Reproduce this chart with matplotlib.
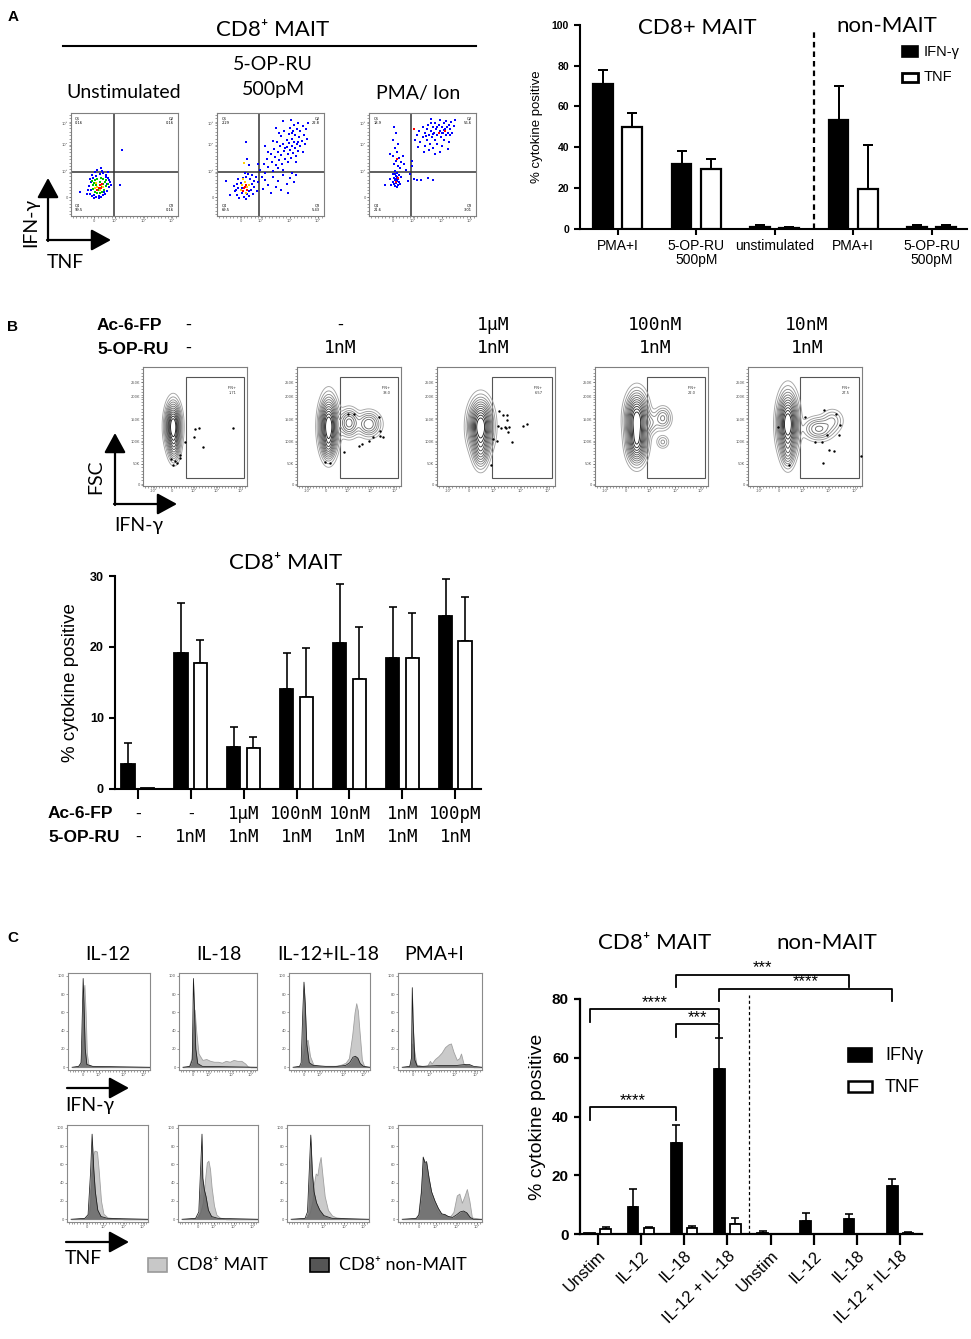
import numpy as np
import matplotlib
matplotlib.use("Agg")
import matplotlib.pyplot as plt
import matplotlib.transforms as mtransforms
from matplotlib.patches import Rectangle

# ====================== DATA ======================
# ---- Panel A : bar chart ----
A_categories = ["PMA+I", "5-OP-RU\n500pM", "unstimulated", "PMA+I", "5-OP-RU\n500pM"]
A_ifng = [71.0, 31.9, 1.0, 53.4, 1.0]
A_ifng_err = [6.9, 6.4, 1.0, 16.6, 1.0]
A_tnf = [49.9, 29.3, 0.5, 19.6, 0.8]
A_tnf_err = [6.9, 4.9, 0.5, 21.3, 1.0]
A_yticks = [0, 20, 40, 60, 80, 100]

# ---- Panel A : flow dot plots (fraction of plot box) ----
A_flow_titles = ["Unstimulated", "5-OP-RU", "500pM", "PMA/ Ion"]
A_flow_quadrants = [["0.16", "0.16", "99.5", "0.16"],
                    ["2.29", "22.8", "69.5", "5.43"],
                    ["18.9", "56.6", "21.6", "3.01"]]
A1_blue_x = [0.16, 0.18, 0.2, 0.22, 0.24, 0.26, 0.28, 0.3, 0.32, 0.34, 0.36, 0.37, 0.35, 0.33, 0.3, 0.27, 0.24,
             0.21, 0.19, 0.17, 0.18, 0.2, 0.23, 0.29, 0.33, 0.36, 0.31, 0.25, 0.22, 0.38, 0.09, 0.46, 0.48, 0.26, 0.34,
             0.15, 0.19, 0.35, 0.28]
A1_blue_y = [0.25, 0.21, 0.19, 0.2, 0.18, 0.19, 0.18, 0.2, 0.21, 0.24, 0.28, 0.33, 0.37, 0.4, 0.42, 0.41, 0.39,
             0.37, 0.33, 0.29, 0.36, 0.4, 0.43, 0.44, 0.38, 0.35, 0.23, 0.45, 0.17, 0.3, 0.23, 0.3, 0.64, 0.17, 0.31,
             0.21, 0.25, 0.43, 0.46]
A1_green_x = [0.21, 0.23, 0.25, 0.27, 0.29, 0.31, 0.33, 0.32, 0.3, 0.28, 0.25, 0.22, 0.24, 0.27, 0.3, 0.23, 0.33,
              0.26, 0.29, 0.21, 0.35, 0.2]
A1_green_y = [0.26, 0.23, 0.22, 0.22, 0.23, 0.25, 0.29, 0.33, 0.36, 0.37, 0.36, 0.32, 0.3, 0.33, 0.31, 0.35, 0.35,
              0.25, 0.28, 0.3, 0.31, 0.34]
A1_yellow_x = [0.25, 0.28, 0.27, 0.3, 0.24, 0.23]
A1_yellow_y = [0.28, 0.3, 0.25, 0.28, 0.32, 0.27]
A1_red_x = [0.26, 0.28, 0.27, 0.29, 0.25]
A1_red_y = [0.27, 0.27, 0.3, 0.31, 0.25]

A2_blue_x = [0.17, 0.19, 0.2, 0.21, 0.22, 0.23, 0.24, 0.25, 0.27, 0.28, 0.3, 0.31, 0.32, 0.33, 0.34, 0.35, 0.36,
             0.37, 0.38, 0.29, 0.26, 0.19, 0.16, 0.23, 0.33, 0.08, 0.12, 0.2, 0.3, 0.35, 0.18, 0.27,
             0.4, 0.42, 0.44, 0.45, 0.47, 0.48, 0.5, 0.51, 0.52, 0.53, 0.54, 0.55, 0.56, 0.57, 0.58, 0.59, 0.6, 0.6,
             0.61, 0.62, 0.63, 0.63, 0.64, 0.65, 0.65, 0.66, 0.67, 0.67, 0.68, 0.68, 0.69, 0.7, 0.7, 0.71, 0.71,
             0.72, 0.72, 0.73, 0.73, 0.74, 0.75, 0.75, 0.76, 0.76, 0.77, 0.78, 0.78, 0.79, 0.8, 0.8, 0.81, 0.82,
             0.83, 0.84, 0.85, 0.62, 0.57, 0.66, 0.74, 0.48, 0.45, 0.52, 0.58, 0.55, 0.62, 0.69, 0.64, 0.7, 0.76,
             0.45, 0.48, 0.5, 0.52, 0.55, 0.57, 0.6, 0.62, 0.65, 0.68, 0.7, 0.72, 0.74, 0.43, 0.66,
             0.28, 0.3, 0.27, 0.38]
A2_blue_y = [0.24, 0.2, 0.27, 0.17, 0.32, 0.22, 0.37, 0.18, 0.16, 0.21, 0.19, 0.36, 0.25, 0.31, 0.21, 0.28, 0.38,
             0.24, 0.33, 0.41, 0.42, 0.31, 0.29, 0.27, 0.4, 0.34, 0.2, 0.36, 0.24, 0.34, 0.25, 0.38,
             0.45, 0.38, 0.5, 0.42, 0.55, 0.47, 0.6, 0.52, 0.44, 0.65, 0.57, 0.49, 0.72, 0.62, 0.54, 0.68, 0.77, 0.59,
             0.5, 0.7, 0.63, 0.82, 0.55, 0.74, 0.67, 0.6, 0.79, 0.71, 0.85, 0.64, 0.56, 0.75, 0.68, 0.82, 0.61,
             0.72, 0.88, 0.66, 0.78, 0.58, 0.84, 0.7, 0.63, 0.9, 0.76, 0.68, 0.82, 0.73, 0.87, 0.62, 0.78, 0.7,
             0.84, 0.75, 0.9, 0.45, 0.46, 0.52, 0.52, 0.62, 0.68, 0.73, 0.8, 0.85, 0.92, 0.93, 0.66, 0.8, 0.72,
             0.35, 0.3, 0.22, 0.38, 0.28, 0.34, 0.25, 0.4, 0.31, 0.37, 0.42, 0.33, 0.4, 0.26, 0.22,
             0.55, 0.49, 0.72, 0.5]
A2_yellow_x = [0.23, 0.26, 0.28, 0.22, 0.3, 0.27, 0.24, 0.25]
A2_yellow_y = [0.3, 0.33, 0.28, 0.25, 0.3, 0.22, 0.36, 0.51]
A2_red_x = [0.25, 0.27, 0.24, 0.28, 0.26]
A2_red_y = [0.27, 0.3, 0.24, 0.25, 0.28]

A3_blue_x = [0.45, 0.47, 0.48, 0.5, 0.5, 0.52, 0.52, 0.54, 0.54, 0.55, 0.56, 0.57, 0.58, 0.58, 0.59, 0.6, 0.6,
             0.61, 0.62, 0.62, 0.63, 0.64, 0.64, 0.65, 0.66, 0.66, 0.67, 0.68, 0.68, 0.69, 0.7, 0.7, 0.71, 0.72,
             0.72, 0.73, 0.74, 0.75, 0.75, 0.76, 0.77, 0.78, 0.79, 0.56, 0.62, 0.66, 0.51, 0.46, 0.43, 0.8, 0.74,
             0.58, 0.6, 0.68, 0.53, 0.7, 0.64, 0.76,
             0.23, 0.25, 0.22, 0.27, 0.24, 0.26, 0.22, 0.28, 0.25, 0.23, 0.27, 0.29, 0.24, 0.26, 0.22, 0.28, 0.25,
             0.23, 0.27, 0.24, 0.26, 0.22, 0.28, 0.25, 0.23, 0.27, 0.24, 0.26, 0.21, 0.29, 0.25, 0.2, 0.3, 0.26,
             0.24, 0.15, 0.2, 0.3, 0.32, 0.33,
             0.35, 0.38, 0.4, 0.42, 0.45, 0.49, 0.55, 0.6, 0.36, 0.4]
A3_blue_y = [0.78, 0.82, 0.72, 0.86, 0.76, 0.8, 0.68, 0.84, 0.74, 0.88, 0.78, 0.7, 0.82, 0.9, 0.76, 0.86, 0.66,
             0.8, 0.74, 0.9, 0.84, 0.78, 0.7, 0.88, 0.82, 0.93, 0.76, 0.86, 0.68, 0.8, 0.9, 0.74, 0.84, 0.78,
             0.92, 0.86, 0.8, 0.88, 0.72, 0.84, 0.91, 0.8, 0.87, 0.64, 0.6, 0.62, 0.62, 0.67, 0.74, 0.93, 0.65,
             0.94, 0.79, 0.8, 0.77, 0.83, 0.86, 0.78,
             0.86, 0.8, 0.74, 0.7, 0.66, 0.62, 0.58, 0.56, 0.53, 0.5, 0.48, 0.46, 0.44, 0.42, 0.41, 0.4, 0.39,
             0.37, 0.36, 0.35, 0.34, 0.33, 0.33, 0.32, 0.31, 0.3, 0.29, 0.28, 0.3, 0.31, 0.36, 0.36, 0.38, 0.38,
             0.41, 0.3, 0.6, 0.52, 0.58, 0.5,
             0.45, 0.41, 0.48, 0.36, 0.35, 0.35, 0.37, 0.35, 0.34, 0.53]
A3_red_x = [0.25, 0.27, 0.26, 0.65, 0.71, 0.42]
A3_red_y = [0.33, 0.37, 0.55, 0.8, 0.82, 0.84]

# ---- Panel B : contour plots ----
B_flow_ac6fp = ["-", "-", "1μM", "100nM", "10nM"]
B_flow_5opru = ["-", "1nM", "1nM", "1nM", "1nM"]
B_flow_ifn_pct = ["1.71", "38.0", "6.57", "22.0", "27.5"]
B_gate_left = [0.41, 0.41, 0.47, 0.456, 0.46]
# density peaks: (x, y, sx, sy, weight)
B_peaks = [
    [(0.29, 0.50, 0.038, 0.10, 1.0), (0.30, 0.33, 0.03, 0.07, 0.25)],
    [(0.305, 0.50, 0.045, 0.12, 1.0), (0.30, 0.33, 0.03, 0.06, 0.2), (0.50, 0.53, 0.05, 0.06, 0.35),
     (0.69, 0.52, 0.06, 0.055, 0.3)],
    [(0.37, 0.50, 0.05, 0.11, 1.0), (0.37, 0.30, 0.035, 0.08, 0.3)],
    [(0.37, 0.56, 0.05, 0.11, 1.0), (0.37, 0.36, 0.045, 0.09, 0.7), (0.60, 0.57, 0.04, 0.05, 0.2),
     (0.60, 0.37, 0.03, 0.03, 0.1), (0.49, 0.53, 0.04, 0.05, 0.12)],
    [(0.35, 0.52, 0.045, 0.13, 1.0), (0.35, 0.28, 0.03, 0.07, 0.2), (0.62, 0.48, 0.07, 0.05, 0.25),
     (0.74, 0.55, 0.05, 0.05, 0.12)],
]
B_dots_x = [
    [0.5, 0.542, 0.494, 0.574, 0.861, 0.403, 0.274, 0.306, 0.355, 0.284, 0.329, 0.355],
    [0.49, 0.548, 0.79, 0.797, 0.8, 0.735, 0.694, 0.629, 0.597, 0.823, 0.452, 0.274, 0.316],
    [0.528, 0.557, 0.591, 0.596, 0.52, 0.54, 0.576, 0.585, 0.613, 0.604, 0.633, 0.477, 0.511, 0.731, 0.765,
     0.458],
    [],
    [0.265, 0.5, 0.668, 0.771, 0.803, 0.794, 0.691, 0.588, 0.647, 0.712, 0.756, 0.662, 0.362, 0.994],
]
B_dots_y = [
    [0.479, 0.487, 0.414, 0.324, 0.485, 0.366, 0.231, 0.211, 0.239, 0.175, 0.192, 0.259],
    [0.606, 0.606, 0.577, 0.465, 0.423, 0.408, 0.38, 0.352, 0.338, 0.408, 0.282, 0.203, 0.197],
    [0.63, 0.597, 0.597, 0.555, 0.507, 0.49, 0.493, 0.485, 0.498, 0.456, 0.372, 0.392, 0.378, 0.504, 0.518,
     0.176],
    [],
    [0.493, 0.577, 0.639, 0.606, 0.515, 0.428, 0.428, 0.366, 0.366, 0.304, 0.29, 0.192, 0.175, 0.248],
]

# ---- Panel B : bar chart ----
B_ac6fp = ["-", "-", "1μM", "100nM", "10nM", "1nM", "100pM"]
B_5opru = ["-", "1nM", "1nM", "1nM", "1nM", "1nM", "1nM"]
B_ifng = [3.5, 19.1, 5.9, 14.0, 20.5, 18.4, 24.3]
B_ifng_err = [2.9, 7.1, 2.8, 5.1, 8.4, 7.2, 5.3]
B_tnf = [0.15, 17.7, 5.8, 12.9, 15.5, 18.4, 20.9]
B_tnf_err = [0.0, 3.3, 1.5, 7.0, 7.3, 6.4, 6.2]
B_yticks = [0, 10, 20, 30]

# ---- Panel C : histograms (x = fraction of axis, y = % of max) ----
C_hist_titles = ["IL-12", "IL-18", "IL-12+IL-18", "PMA+I"]
C_ifn_mait_x = [
    [0.05, 0.12, 0.15, 0.17, 0.185, 0.2, 0.215, 0.23, 0.25, 0.3, 0.5, 0.9, 1.0],
    [0.05, 0.1, 0.13, 0.16, 0.18, 0.2, 0.22, 0.25, 0.3, 0.35, 0.4, 0.45, 0.5, 0.55, 0.6, 0.65, 0.7, 0.75, 0.8,
     0.85, 0.88, 0.92, 1.0],
    [0.05, 0.12, 0.15, 0.18, 0.21, 0.23, 0.26, 0.3, 0.4, 0.55, 0.65, 0.7, 0.74, 0.78, 0.81, 0.83, 0.85, 0.87,
     0.9, 0.93, 1.0],
    [0.05, 0.13, 0.15, 0.17, 0.19, 0.22, 0.3, 0.35, 0.38, 0.4, 0.44, 0.48, 0.52, 0.56, 0.6, 0.63, 0.66, 0.7,
     0.73, 0.75, 0.78, 0.82, 0.86, 0.9, 1.0],
]
C_ifn_mait_y = [
    [0, 1, 4, 20, 80, 90, 60, 15, 3, 1, 0.5, 0, 0],
    [0, 0.5, 2, 10, 40, 63, 40, 15, 8, 9, 7, 6, 6, 5, 7, 6, 8, 7, 7, 4, 1, 0, 0],
    [0, 1, 3, 15, 28, 30, 12, 3, 1, 1, 3, 5, 10, 35, 60, 70, 62, 40, 8, 1, 0],
    [0, 1, 5, 26, 20, 3, 1, 2, 7, 4, 9, 12, 16, 22, 25, 26, 17, 8, 10, 15, 4, 2, 1, 0, 0],
]
C_ifn_non_x = [
    [0.05, 0.13, 0.16, 0.175, 0.185, 0.195, 0.21, 0.23, 0.3, 1.0],
    [0.05, 0.14, 0.17, 0.185, 0.2, 0.215, 0.24, 0.3, 1.0],
    [0.05, 0.13, 0.15, 0.17, 0.185, 0.2, 0.22, 0.25, 0.3, 0.45, 0.6, 0.7, 0.75, 0.79, 0.82, 0.85, 0.88, 0.92,
     1.0],
    [0.05, 0.14, 0.16, 0.17, 0.18, 0.2, 0.23, 0.3, 0.5, 0.7, 0.8, 0.85, 0.9, 1.0],
]
C_ifn_non_y = [
    [0, 1, 5, 60, 97, 70, 20, 3, 1, 0],
    [0, 1, 8, 97, 60, 20, 4, 1, 0],
    [0, 1, 5, 60, 93, 70, 25, 5, 2, 1, 1, 2, 5, 11, 12, 10, 4, 1, 0],
    [0, 1, 10, 87, 50, 8, 1, 1, 2, 2, 3, 3, 1, 0],
]
C_tnf_mait_x = [
    [0.05, 0.2, 0.25, 0.28, 0.3, 0.32, 0.34, 0.37, 0.39, 0.42, 0.45, 0.5, 0.6, 0.7, 1.0],
    [0.05, 0.2, 0.25, 0.28, 0.31, 0.34, 0.36, 0.38, 0.4, 0.42, 0.45, 0.48, 0.52, 0.6, 1.0],
    [0.05, 0.2, 0.25, 0.28, 0.31, 0.33, 0.35, 0.37, 0.39, 0.41, 0.43, 0.46, 0.5, 0.55, 0.6, 0.7, 1.0],
    [0.05, 0.2, 0.24, 0.27, 0.3, 0.32, 0.35, 0.38, 0.42, 0.46, 0.5, 0.55, 0.58, 0.62, 0.66, 0.7, 0.73, 0.76,
     0.79, 0.82, 0.85, 0.88, 1.0],
]
C_tnf_mait_y = [
    [0, 1, 3, 10, 40, 70, 75, 74, 55, 20, 6, 2, 1, 0, 0],
    [0, 1, 3, 8, 18, 45, 62, 64, 55, 35, 15, 5, 2, 0, 0],
    [0, 1, 3, 8, 20, 40, 50, 48, 60, 68, 50, 25, 10, 4, 2, 1, 0],
    [0, 1, 5, 30, 66, 60, 45, 28, 18, 10, 5, 6, 4, 3, 8, 26, 28, 18, 25, 33, 20, 2, 0],
]
C_tnf_non_x = [
    [0.05, 0.22, 0.26, 0.29, 0.31, 0.33, 0.35, 0.38, 0.42, 0.5, 1.0],
    [0.05, 0.22, 0.26, 0.28, 0.3, 0.31, 0.33, 0.35, 0.38, 0.42, 0.5, 1.0],
    [0.05, 0.22, 0.25, 0.27, 0.29, 0.31, 0.33, 0.36, 0.4, 0.45, 0.55, 1.0],
    [0.05, 0.22, 0.25, 0.28, 0.3, 0.32, 0.34, 0.37, 0.4, 0.44, 0.48, 0.52, 0.56, 0.6, 0.65, 0.7, 0.74, 0.78,
     0.82, 0.86, 0.9, 1.0],
]
C_tnf_non_y = [
    [0, 1, 5, 50, 93, 55, 30, 10, 3, 1, 0],
    [0, 1, 8, 50, 93, 45, 32, 25, 10, 3, 1, 0],
    [0, 1, 8, 50, 92, 50, 30, 18, 10, 4, 1, 0],
    [0, 1, 5, 30, 68, 62, 63, 45, 30, 20, 12, 6, 5, 3, 2, 5, 8, 9, 7, 2, 0, 0],
]

# ---- Panel C : bar chart ----
C_categories = ["Unstim", "IL-12", "IL-18", "IL-12 + IL-18", "Unstim", "IL-12", "IL-18", "IL-12 + IL-18"]
C_ifng = [0.3, 9.2, 30.9, 56.2, 0.6, 4.6, 5.3, 16.3]
C_ifng_err = [0.0, 6.3, 6.2, 10.4, 0.5, 2.8, 1.6, 2.6]
C_tnf = [1.7, 2.0, 2.0, 3.4, 0.0, 0.2, 0.1, 0.4]
C_tnf_err = [0.9, 0.4, 0.8, 2.0, 0.0, 0.0, 0.0, 0.5]
C_yticks = [0, 20, 40, 60, 80]
C_sig_pairs = [(0, 2), (2, 3), (0, 3), (2, 6), (3, 7)]
C_sig_height = [43.2, 71.4, 76.5, 88.2, 83.4]
C_sig_labels = ["****", "***", "****", "***", "****"]

# ====================== DRAWING ======================
W, H = 971, 1339
CAL = ['Lato', 'DejaVu Sans']
ARIAL = ['Liberation Sans', 'DejaVu Sans']
MONO = ['DejaVu Sans Mono']
plt.rcParams['font.family'] = ARIAL

fig = plt.figure(figsize=(W / 100, H / 100), dpi=100)
fig.patch.set_facecolor('white')


def add_ax(x0, y0, x1, y1):
    return fig.add_axes([x0 / W, 1 - y1 / H, (x1 - x0) / W, (y1 - y0) / H])


def style_bar_axes(ax, lw=1.5):
    for s in ['top', 'right']:
        ax.spines[s].set_visible(False)
    for s in ['left', 'bottom']:
        ax.spines[s].set_linewidth(lw)
    ax.tick_params(width=lw, length=4.5, direction='out')


def draw_bars(ax, ifn, ifn_err, tnf, tnf_err, lw=1.4, cap=3.5, off=0.185, w=0.25):
    x = np.arange(len(ifn))
    ax.bar(x - off, ifn, w, color='black', edgecolor='black', linewidth=lw, zorder=3)
    ax.bar(x + off, tnf, w, color='white', edgecolor='black', linewidth=lw, zorder=3)
    for xs, v, e in ((x - off, ifn, ifn_err), (x + off, tnf, tnf_err)):
        e = np.asarray(e, float)
        m = e > 0
        ax.errorbar(np.asarray(xs)[m], np.asarray(v, float)[m], yerr=[np.zeros(m.sum()), e[m]], fmt='none',
                    ecolor='black', elinewidth=lw * 0.9, capsize=cap, capthick=lw * 0.9, zorder=2)


def flow_box(ax, color='#7f7f7f'):
    for s in ax.spines.values():
        s.set_color(color)
        s.set_linewidth(0.8)


# ---------- Panel A : dot plots ----------
A_boxes = [(70.7, 112.7, 177.7, 216), (217, 112.7, 324, 216), (369, 112.7, 476, 216)]
A_qx = [0.40, 0.39, 0.39]
A_pts = [
    [(A1_blue_x, A1_blue_y, '#0000ff'), (A1_green_x, A1_green_y, '#00c000'),
     (A1_yellow_x, A1_yellow_y, '#ffd000'), (A1_red_x, A1_red_y, '#ff0000')],
    [(A2_blue_x, A2_blue_y, '#0000ff'), (A2_yellow_x, A2_yellow_y, '#ffd000'), (A2_red_x, A2_red_y, '#ff0000')],
    [(A3_blue_x, A3_blue_y, '#0000ff'), (A3_red_x, A3_red_y, '#ff0000')],
]
for i, bx in enumerate(A_boxes):
    ax = add_ax(*bx)
    ax.set_xlim(0, 1)
    ax.set_ylim(0, 1)
    flow_box(ax)
    for xs, ys, c in A_pts[i]:
        ax.scatter(xs, ys, s=4.2, marker='s', c=c, linewidths=0, zorder=3)
    ax.axvline(A_qx[i], color='#333333', lw=1.1)
    ax.axhline(0.43, color='#333333', lw=1.1)
    q = A_flow_quadrants[i]
    ax.text(0.04, 0.96, "Q1\n" + q[0], fontsize=2.6, va='top', ha='left', family='DejaVu Sans')
    ax.text(0.96, 0.96, "Q2\n" + q[1], fontsize=2.6, va='top', ha='right', family='DejaVu Sans')
    ax.text(0.04, 0.04, "Q4\n" + q[2], fontsize=2.6, va='bottom', ha='left', family='DejaVu Sans')
    ax.text(0.96, 0.04, "Q3\n" + q[3], fontsize=2.6, va='bottom', ha='right', family='DejaVu Sans')
    ax.set_xticks([0.22, 0.41, 0.68, 0.94])
    ax.set_xticklabels(["0", "10³", "10⁴", "10⁵"], fontsize=2.6, family='DejaVu Sans')
    ax.set_yticks([0.18, 0.43, 0.69, 0.9])
    ax.set_yticklabels(["0", "10³", "10⁴", "10⁵"], fontsize=2.6, family='DejaVu Sans')
    ax.set_xticks(np.linspace(0.02, 0.98, 30), minor=True)
    ax.set_yticks(np.linspace(0.02, 0.98, 30), minor=True)
    ax.tick_params(which='both', length=1.2, width=0.4, pad=1, colors='#555555')

# ---------- Panel A : bar chart ----------
axA = add_ax(580, 25, 967, 228.7)
style_bar_axes(axA, 1.5)
draw_bars(axA, A_ifng, A_ifng_err, A_tnf, A_tnf_err, lw=1.6, cap=3.6)
axA.set_ylim(0, 100)
axA.set_xlim(-0.48, 4.45)
axA.set_yticks(A_yticks)
axA.set_yticklabels([str(v) for v in A_yticks], fontsize=7.5, fontweight='bold')
axA.set_xticks(range(len(A_categories)))
axA.set_xticklabels(A_categories, fontsize=10, linespacing=1.0)
axA.tick_params(axis='x', pad=3)
axA.set_ylabel("% cytokine positive", fontsize=9.5, labelpad=6)
axA.plot([2.5, 2.5], [0, 98], ls=(0, (2.5, 1.8)), color='black', lw=1.6, zorder=4)

# ---------- Panel B : contour plots ----------
B_boxes = [(143, 367, 247, 486), (297, 367, 401, 486), (437, 367, 555, 486), (595, 367, 708, 486),
           (748, 367, 862, 486)]
gx, gy = np.meshgrid(np.linspace(0, 1, 240), np.linspace(0, 1, 240))
rel_levels = [0.02, 0.045, 0.08, 0.12, 0.17, 0.23, 0.3, 0.38, 0.47, 0.57, 0.68, 0.8]
lev_cols = [plt.cm.Greys(v) for v in np.linspace(0.45, 0.9, len(rel_levels))]
for i, bx in enumerate(B_boxes):
    ax = add_ax(*bx)
    ax.set_xlim(0, 1)
    ax.set_ylim(0, 1)
    flow_box(ax)
    Z = np.zeros_like(gx)
    for cx, cy, sx, sy, wgt in B_peaks[i]:
        Z += wgt * np.exp(-((gx - cx) ** 2 / (2 * sx ** 2) + (gy - cy) ** 2 / (2 * sy ** 2)))
    ax.contour(gx, gy, Z, levels=[Z.max() * r for r in rel_levels], colors=lev_cols, linewidths=0.65)
    if B_dots_x[i]:
        ax.scatter(B_dots_x[i], B_dots_y[i], s=3, c='black', linewidths=0, zorder=3)
    gl = B_gate_left[i]
    ax.add_patch(Rectangle((gl, 0.07), 0.975 - gl, 0.845, fill=False, edgecolor='#555555', lw=0.8))
    ax.text(0.86, 0.8, "IFN+\n" + B_flow_ifn_pct[i], fontsize=2.6, ha='center', va='center',
            family='DejaVu Sans', color='#333333')
    ax.set_xticks([0.097, 0.274, 0.484, 0.71, 0.935])
    ax.set_xticklabels(["-10³", "0", "10³", "10⁴", "10⁵"], fontsize=2.6, family='DejaVu Sans')
    ax.set_yticks([0.01, 0.185, 0.37, 0.56, 0.75, 0.87])
    ax.set_yticklabels(["0", "50K", "100K", "150K", "200K", "250K"], fontsize=2.6, family='DejaVu Sans')
    ax.set_xticks(np.linspace(0.02, 0.98, 36), minor=True)
    ax.set_yticks(np.linspace(0.02, 0.98, 36), minor=True)
    ax.tick_params(which='both', length=1.2, width=0.4, pad=1, colors='#555555')

# ---------- Panel B : bar chart ----------
axB = add_ax(115, 576, 480.7, 788.7)
style_bar_axes(axB, 1.5)
draw_bars(axB, B_ifng, B_ifng_err, B_tnf, B_tnf_err, lw=1.3, cap=3.2)
axB.set_ylim(0, 30)
axB.set_xlim(-0.43, 6.48)
axB.set_yticks(B_yticks)
axB.set_yticklabels([str(v) for v in B_yticks], fontsize=9, fontweight='bold')
axB.set_xticks(range(len(B_ifng)))
axB.set_xticklabels([])
axB.tick_params(axis='x', length=7)
axB.set_ylabel("% cytokine positive", fontsize=13.5, labelpad=8)
trB = mtransforms.blended_transform_factory(axB.transData, axB.transAxes)
for i in range(len(B_ac6fp)):
    fam = ARIAL if B_ac6fp[i] == "-" else MONO
    axB.text(i, -0.119, B_ac6fp[i], transform=trB, ha='center', va='center', fontsize=12.5, family=fam)
    fam = ARIAL if B_5opru[i] == "-" else MONO
    axB.text(i, -0.227, B_5opru[i], transform=trB, ha='center', va='center', fontsize=12.5, family=fam)

# ---------- Panel C : histograms ----------
C_top_boxes = [(68, 973, 150, 1070), (179, 973, 257, 1070), (289, 973, 370, 1070), (398, 973, 482, 1070)]
C_bot_boxes = [(67, 1125, 148, 1222), (178, 1125, 258, 1222), (287, 1125, 369, 1222), (398, 1125, 482, 1222)]


def hist_axes(bx, mx, my, nx, ny, xt):
    ax = add_ax(*bx)
    ax.set_xlim(0, 1)
    ax.set_ylim(-3, 103)
    flow_box(ax, '#8a8a8a')
    ax.fill_between(mx, my, 0, color='#cacaca', edgecolor='#a0a0a0', lw=0.6, zorder=2)
    ax.fill_between(nx, ny, 0, color='#666666', alpha=0.85, lw=0, zorder=3)
    ax.plot(nx, ny, color='#1a1a1a', lw=0.55, zorder=4)
    ax.set_xticks(xt)
    ax.set_xticklabels(["0", "10³", "10⁴", "10⁵"], fontsize=2.6, family='DejaVu Sans')
    ax.set_yticks([0, 20, 40, 60, 80, 100])
    ax.set_yticklabels(["0", "20", "40", "60", "80", "100"], fontsize=2.6, family='DejaVu Sans')
    ax.set_xticks(np.linspace(0.02, 0.98, 28), minor=True)
    ax.tick_params(which='both', length=1.2, width=0.4, pad=1, colors='#555555')
    return ax


for i in range(4):
    hist_axes(C_top_boxes[i], C_ifn_mait_x[i], C_ifn_mait_y[i], C_ifn_non_x[i], C_ifn_non_y[i],
              [0.18, 0.38, 0.68, 0.92])
    hist_axes(C_bot_boxes[i], C_tnf_mait_x[i], C_tnf_mait_y[i], C_tnf_non_x[i], C_tnf_non_y[i],
              [0.25, 0.45, 0.7, 0.94])

# ---------- Panel C : bar chart ----------
axC = add_ax(580, 999, 921.7, 1234.3)
style_bar_axes(axC, 1.6)
draw_bars(axC, C_ifng, C_ifng_err, C_tnf, C_tnf_err, lw=1.3, cap=3.0)
axC.set_ylim(0, 80)
axC.set_xlim(-0.41, 7.5)
axC.set_yticks(C_yticks)
axC.set_yticklabels([str(v) for v in C_yticks], fontsize=11, fontweight='bold')
axC.set_xticks(range(len(C_categories)))
axC.set_xticklabels(C_categories, rotation=45, ha='right', rotation_mode='anchor', fontsize=12)
axC.tick_params(axis='x', length=8, pad=2)
axC.set_ylabel("% cytokine positive", fontsize=14, labelpad=4)
axC.plot([3.5, 3.5], [0, 81.5], ls=(0, (2.5, 2)), color='black', lw=0.9, zorder=4, clip_on=False)
for (a, b), h, lab in zip(C_sig_pairs, C_sig_height, C_sig_labels):
    xa, xb = a - 0.185, b - 0.185
    axC.plot([xa, xa, xb, xb], [h - 4.2, h, h, h - 4.2], color='black', lw=1.3, clip_on=False, zorder=5)
    axC.text((xa + xb) / 2, h - 0.2, lab, ha='center', va='bottom', fontsize=12, clip_on=False)

# ---------- Overlay: free text, arrows, legends ----------
ov = fig.add_axes([0, 0, 1, 1], zorder=10)
ov.set_xlim(0, W)
ov.set_ylim(H, 0)
ov.axis('off')
ov.patch.set_visible(False)


def arrow(x0, y0, x1, y1):
    ov.annotate('', xy=(x1, y1), xytext=(x0, y0),
                arrowprops=dict(arrowstyle='-|>,head_length=0.55,head_width=0.3', lw=1.6, color='black',
                                mutation_scale=22, shrinkA=0, shrinkB=0))


# panel letters
for lx, ly, lt in ((13, 17, "A"), (13, 327, "B"), (13, 938, "C")):
    ov.text(lx, ly, lt, fontsize=11, fontweight='bold', ha='center', va='center', family=ARIAL)

# Panel A left
ov.text(273, 30, "CD8⁺ MAIT", fontsize=16, ha='center', va='center', family=CAL)
ov.plot([63, 476], [45.7, 45.7], color='black', lw=1.5)
ov.text(124, 93, A_flow_titles[0], fontsize=14, ha='center', va='center', family=CAL)
ov.text(273, 64, A_flow_titles[1], fontsize=14, ha='center', va='center', family=CAL)
ov.text(273, 90, A_flow_titles[2], fontsize=14, ha='center', va='center', family=CAL)
ov.text(418, 93, A_flow_titles[3], fontsize=14, ha='center', va='center', family=CAL)
arrow(48, 241, 48, 178)
arrow(47, 240, 111, 240)
ov.text(31, 222, "IFN-γ", fontsize=14, rotation=90, ha='center', va='center', family=CAL)
ov.text(65, 263, "TNF", fontsize=14, ha='center', va='center', family=CAL)

# Panel A right
ov.text(697, 28, "CD8+ MAIT", fontsize=16, ha='center', va='center', family=CAL)
ov.text(887, 26, "non-MAIT", fontsize=16, ha='center', va='center', family=CAL)
ov.add_patch(Rectangle((902, 46), 16, 11, facecolor='black', edgecolor='black', lw=1.2))
ov.add_patch(Rectangle((902, 72.5), 16, 9, facecolor='white', edgecolor='black', lw=2.0))
ov.text(924, 52, "IFN-γ", fontsize=10.5, ha='left', va='center', family=ARIAL)
ov.text(924, 77, "TNF", fontsize=10.5, ha='left', va='center', family=ARIAL)

# Panel B header
B_head_x = [188, 340, 493, 655, 807]
ov.text(97, 326, "Ac-6-FP", fontsize=12.5, fontweight='bold', ha='left', va='center', family=ARIAL)
ov.text(97, 350, "5-OP-RU", fontsize=12.5, fontweight='bold', ha='left', va='center', family=ARIAL)
for i, hx in enumerate(B_head_x):
    fam = ARIAL if B_flow_ac6fp[i] == "-" else MONO
    ov.text(hx, 325, B_flow_ac6fp[i], fontsize=13, ha='center', va='center', family=fam)
    fam = ARIAL if B_flow_5opru[i] == "-" else MONO
    ov.text(hx, 348, B_flow_5opru[i], fontsize=13, ha='center', va='center', family=fam)
arrow(115, 505, 115, 433)
arrow(114, 504, 177, 504)
ov.text(96, 477, "FSC", fontsize=14, rotation=90, ha='center', va='center', family=CAL)
ov.text(139, 526, "IFN-γ", fontsize=14, ha='center', va='center', family=CAL)

# Panel B bar extra labels
ov.text(286, 563, "CD8⁺ MAIT", fontsize=16, ha='center', va='center', family=CAL)
ov.text(48, 814, "Ac-6-FP", fontsize=12.5, fontweight='bold', ha='left', va='center', family=ARIAL)
ov.text(48, 837, "5-OP-RU", fontsize=12.5, fontweight='bold', ha='left', va='center', family=ARIAL)

# Panel C histograms labels
for tx, tt in zip([108, 219, 328, 434], C_hist_titles):
    ov.text(tx, 954, tt, fontsize=14, ha='center', va='center', family=CAL)
arrow(67, 1088, 129, 1088)
ov.text(65, 1106, "IFN-γ", fontsize=14, ha='left', va='center', family=CAL)
arrow(66, 1242, 129, 1242)
ov.text(65, 1258, "TNF", fontsize=14, ha='left', va='center', family=CAL)
ov.add_patch(Rectangle((148, 1258), 19, 14, facecolor='#c8c8c8', edgecolor='#9a9a9a', lw=1.2))
ov.text(177, 1265, "CD8⁺ MAIT", fontsize=13, ha='left', va='center', family=CAL)
ov.add_patch(Rectangle((310, 1258), 19, 14, facecolor='#555555', edgecolor='black', lw=1.2))
ov.text(339, 1265, "CD8⁺ non-MAIT", fontsize=13, ha='left', va='center', family=CAL)

# Panel C bar labels
ov.text(655, 943, "CD8⁺ MAIT", fontsize=16, ha='center', va='center', family=CAL)
ov.text(827, 943, "non-MAIT", fontsize=16, ha='center', va='center', family=CAL)
ov.add_patch(Rectangle((848, 1048), 24, 14, facecolor='black', edgecolor='black', lw=1.2))
ov.add_patch(Rectangle((848, 1081), 24, 11, facecolor='white', edgecolor='black', lw=1.8))
ov.text(885, 1055, "IFNγ", fontsize=13, ha='left', va='center', family=ARIAL)
ov.text(885, 1087, "TNF", fontsize=13, ha='left', va='center', family=ARIAL)

fig.savefig("out.png", dpi=100, facecolor='white')
